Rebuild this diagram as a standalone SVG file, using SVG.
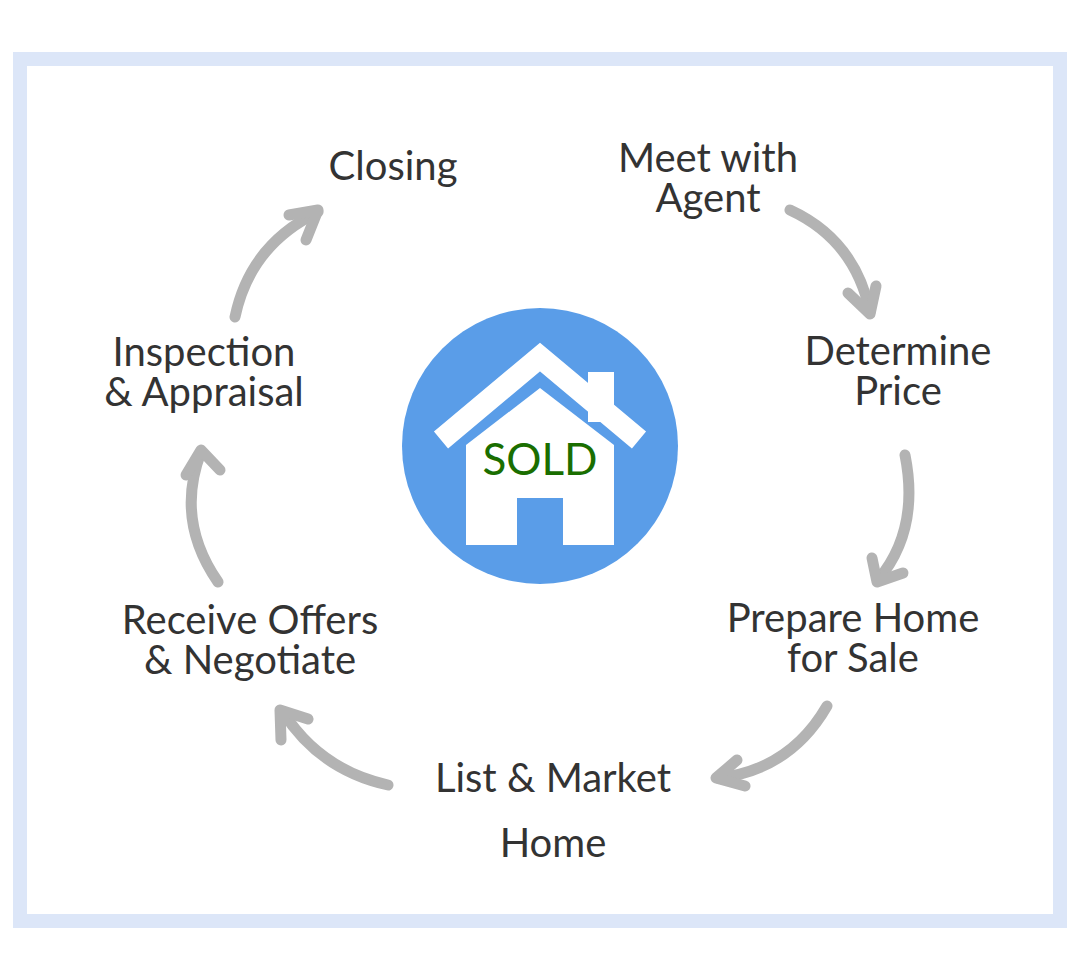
<svg xmlns="http://www.w3.org/2000/svg" width="1080" height="980" viewBox="0 0 1080 980">
<style>
.t{font-family:Lato,"Liberation Sans",sans-serif;font-size:40px;fill:#333;text-anchor:middle}
.a{fill:none;stroke:#b3b3b3;stroke-width:11;stroke-linecap:round;stroke-linejoin:round}
</style>
<rect width="1080" height="980" fill="#fff"/>
<rect x="20" y="59" width="1040" height="862" fill="#fff" stroke="#dce6f8" stroke-width="14"/>
<g id="center">
<circle cx="540" cy="446" r="138" fill="#5a9de8"/>
<rect x="588" y="372" width="26" height="50" fill="#fff"/>
<polygon points="466,445 540,388 614,445 614,545 466,545" fill="#fff"/>
<polyline points="441,440 540,357 639,440" fill="none" stroke="#fff" stroke-width="22"/>
<rect x="517" y="498" width="46" height="47" fill="#5a9de8"/>
<text x="540" y="475" font-family="Lato,'Liberation Sans',sans-serif" font-size="44" fill="#1a6e00" text-anchor="middle">SOLD</text>
</g>
<g id="n1"><text class="t" x="708" y="172">Meet with</text><text class="t" x="708" y="212">Agent</text></g>
<g id="n2"><text class="t" x="898" y="365">Determine</text><text class="t" x="898" y="405">Price</text></g>
<g id="n3"><text class="t" x="853" y="632">Prepare Home</text><text class="t" x="853" y="672">for Sale</text></g>
<g id="n4"><text class="t" x="553" y="792">List &amp; Market</text><text class="t" x="553" y="857">Home</text></g>
<g id="n5"><text class="t" x="250" y="634">Receive Offers</text><text class="t" x="250" y="674">&amp; Negotiate</text></g>
<g id="n6"><text class="t" x="204" y="366">Inspection</text><text class="t" x="204" y="406">&amp; Appraisal</text></g>
<g id="n7"><text class="t" x="393" y="180">Closing</text></g>
<g id="connectors">
<path class="a" d="M790,210 Q855,240 870,312"/><polyline class="a" points="848,293 870,314 876,286"/>
<path class="a" d="M905,455 Q920,530 878,580"/><polyline class="a" points="872,558 877,582 903,573"/>
<path class="a" d="M827,706 Q790,770 718,778"/><polyline class="a" points="737,760 716,778 745,786"/>
<path class="a" d="M388,785 Q320,770 283,712"/><polyline class="a" points="281,740 280,710 308,719"/>
<path class="a" d="M218,582 Q175,520 201,452"/><polyline class="a" points="186,475 201,450 220,470"/>
<path class="a" d="M235,317 Q250,245 318,212"/><polyline class="a" points="289,215 318,210 306,240"/>
</g>
</svg>
